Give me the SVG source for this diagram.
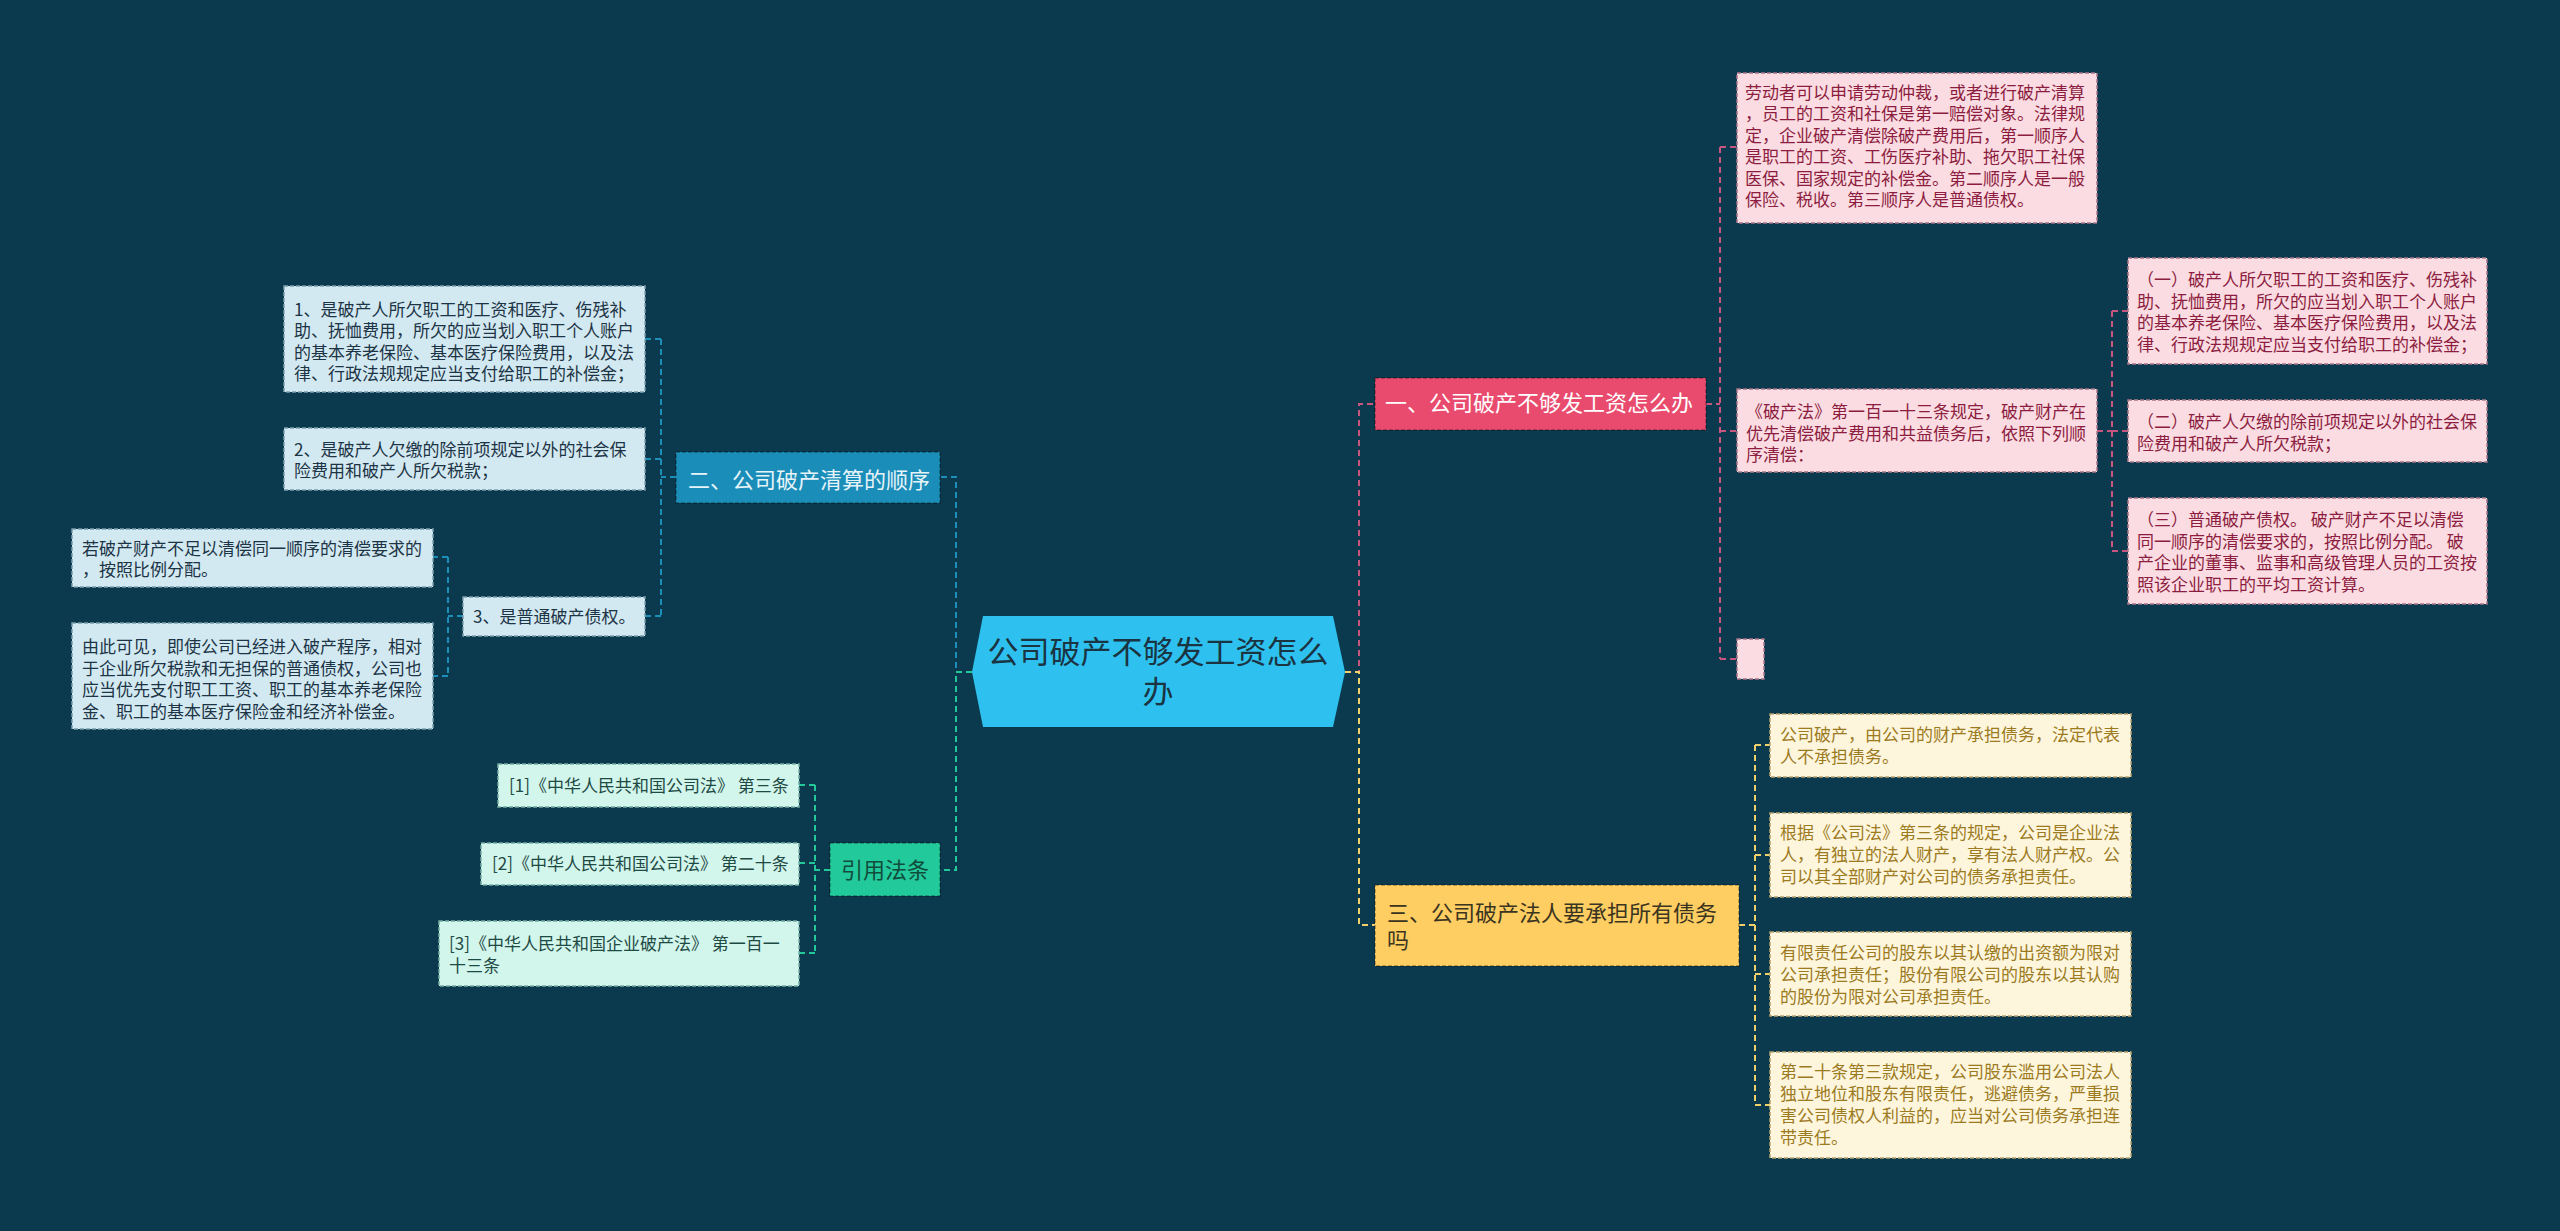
<svg xmlns="http://www.w3.org/2000/svg" width="2560" height="1231" viewBox="0 0 2560 1231">
<style>
text{font-family:"Noto Sans CJK SC","Noto Sans",sans-serif;}
.bg{fill:#0B3A4E;}
.c{fill:none;stroke-width:2;stroke-dasharray:6 4;}
.cp{stroke:#C8557E;}
.cy{stroke:#F0D06A;}
.cb{stroke:#1C8EB8;}
.cg{stroke:#22C79A;}
.lp{fill:#FBDCE2;stroke:#A8768A;stroke-width:1.5;stroke-dasharray:4 2;}
.ly{fill:#FEF6DC;stroke:#B8A470;stroke-width:1.5;stroke-dasharray:4 2;}
.lb{fill:#D3E9F2;stroke:#7E9FAE;stroke-width:1.5;stroke-dasharray:4 2;}
.lm{fill:#D2F5EC;stroke:#76ADA2;stroke-width:1.5;stroke-dasharray:4 2;}
.tp{fill:#8C1D40;font-size:17px;}
.ty{fill:#9C7A1F;font-size:17px;}
.tb{fill:#1C3445;font-size:17px;}
.tm{fill:#1E4A44;font-size:17px;}
.nb{stroke:rgba(0,0,0,0.35);stroke-width:1.5;stroke-dasharray:4 2;}
</style>
<rect class="bg" x="0" y="0" width="2560" height="1231"/>

<g id="connectors">
<path class="c cp" d="M1345,672 H1359 V404 H1375"/>
<path class="c cp" d="M1706,404 H1720 M1720,147 V659 M1720,147 H1737 M1720,431 H1737 M1720,659 H1737"/>
<path class="c cp" d="M2097,431 H2112 M2112,311 V551 M2112,311 H2128 M2112,431 H2128 M2112,551 H2128"/>
<path class="c cy" d="M1345,672 H1359 V925 H1375"/>
<path class="c cy" d="M1739,925 H1755 M1755,745 V1105 M1755,745 H1770 M1755,855 H1770 M1755,974 H1770 M1755,1105 H1770"/>
<path class="c cb" d="M972,672 H956 V477 H940"/>
<path class="c cb" d="M676,477 H661 M661,339 V616 M661,339 H645 M661,459 H645 M661,616 H645"/>
<path class="c cb" d="M463,616 H448 M448,557 V676 M448,557 H433 M448,676 H433"/>
<path class="c cg" d="M972,672 H956 V870 H940"/>
<path class="c cg" d="M830,870 H815 M815,785 V953 M815,785 H799 M815,863 H799 M815,953 H799"/>
</g>

<g id="center">
<polygon points="972,672 983,616 1333,616 1345,672 1333,727 983,727" fill="#2EC1F0"/>
<text x="1158" y="663" font-size="31" fill="#1A3442" text-anchor="middle">公司破产不够发工资怎么</text>
<text x="1158" y="703" font-size="31" fill="#1A3442" text-anchor="middle">办</text>
</g>

<g id="branch1">
<rect class="nb" x="1375" y="378" width="331" height="52" fill="#E94B6E"/>
<text x="1385" y="411" font-size="22" fill="#FFFFFF">一、公司破产不够发工资怎么办</text>
</g>

<g id="b1-box1">
<rect class="lp" x="1737" y="73" width="360" height="150"/>
<text class="tp" x="1745" y="99">劳动者可以申请劳动仲裁，或者进行破产清算</text>
<text class="tp" x="1745" y="120">，员工的工资和社保是第一赔偿对象。法律规</text>
<text class="tp" x="1745" y="141.5">定，企业破产清偿除破产费用后，第一顺序人</text>
<text class="tp" x="1745" y="163">是职工的工资、工伤医疗补助、拖欠职工社保</text>
<text class="tp" x="1745" y="184.5">医保、国家规定的补偿金。第二顺序人是一般</text>
<text class="tp" x="1745" y="206">保险、税收。第三顺序人是普通债权。</text>
</g>

<g id="b1-box2">
<rect class="lp" x="1737" y="389" width="360" height="83"/>
<text class="tp" x="1746" y="418">《破产法》第一百一十三条规定，破产财产在</text>
<text class="tp" x="1746" y="439.5">优先清偿破产费用和共益债务后，依照下列顺</text>
<text class="tp" x="1746" y="461">序清偿：</text>
</g>

<g id="b1-box3">
<rect class="lp" x="1737" y="639" width="27" height="40"/>
</g>

<g id="b1-sub1">
<rect class="lp" x="2128" y="258" width="359" height="106"/>
<text class="tp" x="2137" y="286">（一）破产人所欠职工的工资和医疗、伤残补</text>
<text class="tp" x="2137" y="307.7">助、抚恤费用，所欠的应当划入职工个人账户</text>
<text class="tp" x="2137" y="329.4">的基本养老保险、基本医疗保险费用，以及法</text>
<text class="tp" x="2137" y="351">律、行政法规规定应当支付给职工的补偿金；</text>
</g>

<g id="b1-sub2">
<rect class="lp" x="2128" y="400" width="359" height="62"/>
<text class="tp" x="2137" y="428">（二）破产人欠缴的除前项规定以外的社会保</text>
<text class="tp" x="2137" y="449.5">险费用和破产人所欠税款；</text>
</g>

<g id="b1-sub3">
<rect class="lp" x="2128" y="498" width="359" height="106"/>
<text class="tp" x="2137" y="526">（三）普通破产债权。 破产财产不足以清偿</text>
<text class="tp" x="2137" y="547.7">同一顺序的清偿要求的，按照比例分配。 破</text>
<text class="tp" x="2137" y="569.4">产企业的董事、监事和高级管理人员的工资按</text>
<text class="tp" x="2137" y="591">照该企业职工的平均工资计算。</text>
</g>

<g id="branch3">
<rect class="nb" x="1375" y="885" width="364" height="81" fill="#FECE62"/>
<text x="1387" y="921" font-size="22" fill="#3B3420">三、公司破产法人要承担所有债务</text>
<text x="1387" y="948" font-size="22" fill="#3B3420">吗</text>
</g>

<g id="b3-box1">
<rect class="ly" x="1770" y="714" width="361" height="63"/>
<text class="ty" x="1780" y="741">公司破产，由公司的财产承担债务，法定代表</text>
<text class="ty" x="1780" y="763">人不承担债务。</text>
</g>

<g id="b3-box2">
<rect class="ly" x="1770" y="813" width="361" height="84"/>
<text class="ty" x="1780" y="839">根据《公司法》第三条的规定，公司是企业法</text>
<text class="ty" x="1780" y="861">人，有独立的法人财产，享有法人财产权。公</text>
<text class="ty" x="1780" y="883">司以其全部财产对公司的债务承担责任。</text>
</g>

<g id="b3-box3">
<rect class="ly" x="1770" y="932" width="361" height="84"/>
<text class="ty" x="1780" y="959">有限责任公司的股东以其认缴的出资额为限对</text>
<text class="ty" x="1780" y="981">公司承担责任；股份有限公司的股东以其认购</text>
<text class="ty" x="1780" y="1003">的股份为限对公司承担责任。</text>
</g>

<g id="b3-box4">
<rect class="ly" x="1770" y="1052" width="361" height="106"/>
<text class="ty" x="1780" y="1078">第二十条第三款规定，公司股东滥用公司法人</text>
<text class="ty" x="1780" y="1100">独立地位和股东有限责任，逃避债务，严重损</text>
<text class="ty" x="1780" y="1122">害公司债权人利益的，应当对公司债务承担连</text>
<text class="ty" x="1780" y="1144">带责任。</text>
</g>

<g id="branch2">
<rect class="nb" x="676" y="452" width="264" height="51" fill="#1A8DB8"/>
<text x="688" y="488" font-size="22" fill="#E6F4FA">二、公司破产清算的顺序</text>
</g>

<g id="b2-box1">
<rect class="lb" x="284" y="286" width="361" height="106"/>
<text class="tb" x="294" y="316">1、是破产人所欠职工的工资和医疗、伤残补</text>
<text class="tb" x="294" y="337">助、抚恤费用，所欠的应当划入职工个人账户</text>
<text class="tb" x="294" y="358.5">的基本养老保险、基本医疗保险费用，以及法</text>
<text class="tb" x="294" y="380">律、行政法规规定应当支付给职工的补偿金；</text>
</g>

<g id="b2-box2">
<rect class="lb" x="284" y="428" width="361" height="62"/>
<text class="tb" x="294" y="456">2、是破产人欠缴的除前项规定以外的社会保</text>
<text class="tb" x="294" y="477">险费用和破产人所欠税款；</text>
</g>

<g id="b2-box3">
<rect class="lb" x="463" y="597" width="182" height="39"/>
<text class="tb" x="473" y="623">3、是普通破产债权。</text>
</g>

<g id="b2-sub1">
<rect class="lb" x="72" y="529" width="361" height="58"/>
<text class="tb" x="82" y="555">若破产财产不足以清偿同一顺序的清偿要求的</text>
<text class="tb" x="82" y="576">，按照比例分配。</text>
</g>

<g id="b2-sub2">
<rect class="lb" x="72" y="623" width="361" height="106"/>
<text class="tb" x="82" y="653">由此可见，即使公司已经进入破产程序，相对</text>
<text class="tb" x="82" y="674.5">于企业所欠税款和无担保的普通债权，公司也</text>
<text class="tb" x="82" y="696">应当优先支付职工工资、职工的基本养老保险</text>
<text class="tb" x="82" y="717.5">金、职工的基本医疗保险金和经济补偿金。</text>
</g>

<g id="branch4">
<rect class="nb" x="830" y="843" width="110" height="53" fill="#22C99A"/>
<text x="885" y="878" font-size="22" fill="#114C3C" text-anchor="middle">引用法条</text>
</g>

<g id="ref1">
<rect class="lm" x="498" y="764" width="301" height="43"/>
<text class="tm" x="509" y="792">[1]《中华人民共和国公司法》 第三条</text>
</g>

<g id="ref2">
<rect class="lm" x="481" y="843" width="318" height="42"/>
<text class="tm" x="492" y="870">[2]《中华人民共和国公司法》 第二十条</text>
</g>

<g id="ref3">
<rect class="lm" x="439" y="921" width="360" height="65"/>
<text class="tm" x="449" y="950">[3]《中华人民共和国企业破产法》 第一百一</text>
<text class="tm" x="449" y="972">十三条</text>
</g>
</svg>
